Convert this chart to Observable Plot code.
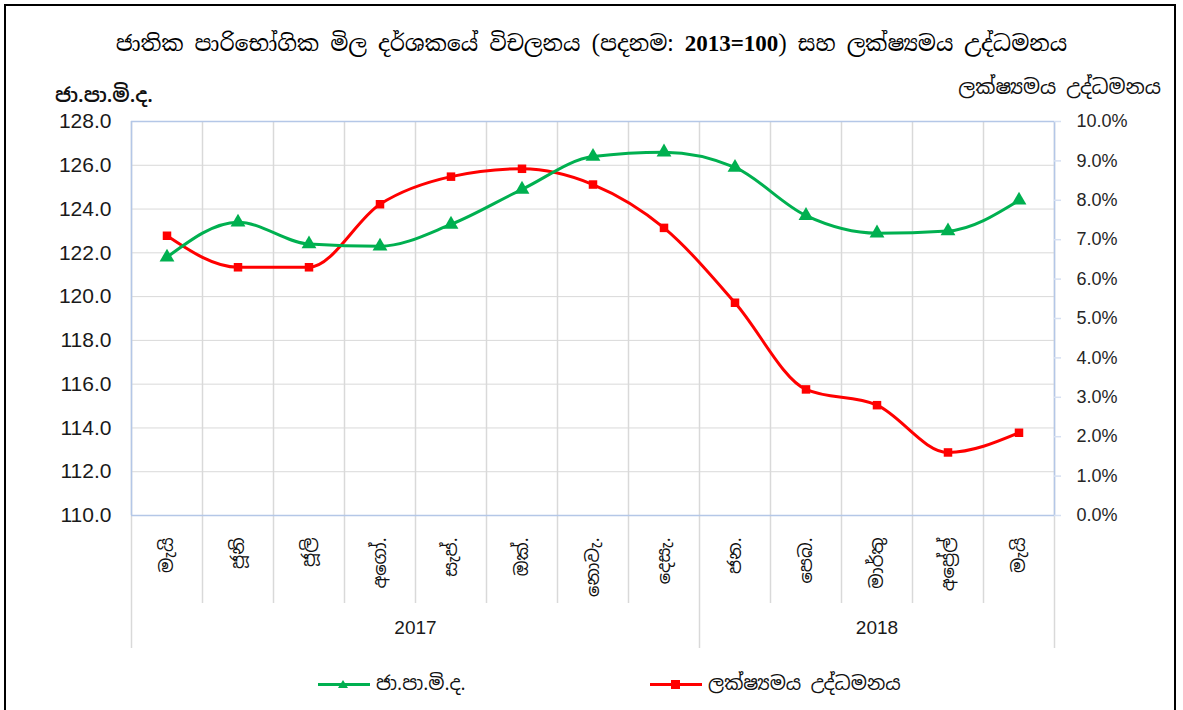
<!DOCTYPE html>
<html>
<head>
<meta charset="utf-8">
<script src="https://cdn.jsdelivr.net/npm/d3@7"></script>
<script src="https://cdn.jsdelivr.net/npm/@observablehq/plot@0.6"></script>
<style>
  html, body { margin: 0; padding: 0; background: #fff; }
  #wrap { position: relative; width: 1183px; height: 710px; overflow: hidden; background: #fff;
          font-family: "Noto Sans Sinhala", "Noto Serif Sinhala", "Iskoola Pota", "LKLUG", "Liberation Sans", sans-serif; color: #111; }
  #frame { position: absolute; left: 4px; top: 4px; width: 1172px; height: 760px; border: 2px solid #000; box-sizing: border-box; }
  #title { position: absolute; left: 0; width: 1183px; top: 29px; text-align: center; font-size: 22px; color: #000;
           font-family: "Noto Serif Sinhala", "Noto Sans Sinhala", "Iskoola Pota", "Liberation Serif", serif; }
  #title b { font-family: "Liberation Serif", serif; font-weight: bold; font-size: 23px; }
  #ylabL { position: absolute; left: 55px; top: 82px; font-size: 20px; font-weight: 600; }
  #ylabR { position: absolute; right: 22px; top: 74px; font-size: 20px; }
  #chart { position: absolute; left: 0; top: 0; }
  #legend { position: absolute; top: 671px; left: 0; width: 1183px; height: 28px; font-size: 19px; }
  .item { position: absolute; top: 0; display: flex; align-items: center; gap: 6px; }
</style>
</head>
<body>
<div id="wrap">
  <div id="chart"></div>
  <div id="frame"></div>
  <div id="title"></div>
  <div id="ylabL"></div>
  <div id="ylabR"></div>
  <div id="legend"></div>
</div>
<script>
// ---- data ----
const months = ["මැයි","ජූනි","ජූලි","අගෝ.","සැප්.","ඔක්.","නොවැ.","දෙසැ.","ජන.","පෙබ.","මාර්තු","අප්‍රේල්","මැයි"];
const years = ["2017", "2018"];
const monthsPerYear = [8, 5];
const ccpi = [121.8, 123.4, 122.4, 122.3, 123.3, 124.9, 126.4, 126.6, 125.9, 123.7, 122.9, 123.0, 124.4];
const inflation = [7.1, 6.3, 6.3, 7.9, 8.6, 8.8, 8.4, 7.3, 5.4, 3.2, 2.8, 1.6, 2.1];
const leftTicks = [110, 112, 114, 116, 118, 120, 122, 124, 126, 128];
const rightTicks = [0, 1, 2, 3, 4, 5, 6, 7, 8, 9, 10];
const seriesNames = ["ජා.පා.මි.ද.", "ලක්ෂ්‍යමය උද්ධමනය"];
const titleText = "ජාතික පාරිභෝගික මිල දර්ශකයේ විචලනය (පදනම: <b>2013=100</b>) සහ ලක්ෂ්‍යමය උද්ධමනය";

// ---- helpers ----
const GREEN = "#00b050", RED = "#ff0000", GRID = "#d9d9d9", BLUE = "#b4c7e7";
const sinh = '"Noto Sans Sinhala","Noto Serif Sinhala","Iskoola Pota","LKLUG","Liberation Sans",sans-serif';
const yMin = leftTicks[0], yMax = leftTicks[leftTicks.length - 1];
const pctMax = rightTicks[rightTicks.length - 1];
const pctToY = p => yMin + p * (yMax - yMin) / pctMax;
const n = months.length;
const idx = d3.range(n);
const boundaries = d3.range(n + 1);
const yearEdges = [0, ...d3.cumsum(monthsPerYear)];
const yearCenters = monthsPerYear.map((m, i) => yearEdges[i] + m / 2);
const innerB = boundaries.filter(b => !yearEdges.includes(b));

const W = 1183, H = 660;
const chart = Plot.plot({
  width: W, height: H,
  marginLeft: 131, marginRight: W - 1054, marginTop: 121, marginBottom: H - 515,
  x: {domain: [0, n], axis: null},
  y: {domain: [yMin, yMax], axis: null},
  style: {background: "transparent", overflow: "visible"},
  marks: [
    // horizontal gridlines
    Plot.ruleY(leftTicks.slice(1, -1), {stroke: GRID, strokeWidth: 1}),
    // vertical category separators (inside plot and label area)
    Plot.ruleX(innerB, {stroke: GRID, strokeWidth: 1.5, insetBottom: -88}),
    Plot.ruleX(yearEdges, {stroke: GRID, strokeWidth: 1.5, insetBottom: -133}),
    // frame of plot area
    Plot.ruleY([yMin, yMax], {stroke: BLUE, strokeWidth: 1.5}),
    Plot.ruleX([0, n], {stroke: BLUE, strokeWidth: 1.5}),
    // left axis labels
    Plot.text(leftTicks, {y: d => d, frameAnchor: "left", textAnchor: "end", dx: -20, text: d => d3.format(".1f")(d),
      fontSize: 21, fill: "#1a1a1a", fontFamily: "Liberation Sans, Arial, sans-serif"}),
    // right axis (inflation %)
    Plot.ruleY(rightTicks, {y: pctToY, x1: n, x2: n, insetRight: -7, stroke: "#d6e0f2", strokeWidth: 1.5}),
    Plot.text(rightTicks, {y: pctToY, frameAnchor: "right", textAnchor: "start", dx: 22, text: d => d.toFixed(1) + "%",
      fontSize: 18, fill: "#262626", fontFamily: "Liberation Sans, Arial, sans-serif"}),
    // month labels
    Plot.text(months, {x: (d, i) => i + 0.5, frameAnchor: "bottom", dy: 22, rotate: -90, textAnchor: "end",
      lineAnchor: "middle", fontSize: 18, fill: "#111", fontFamily: sinh}),
    // year labels
    Plot.text(years, {x: (d, i) => yearCenters[i], frameAnchor: "bottom", dy: 118, fontSize: 19,
      fill: "#1a1a1a", fontFamily: "Liberation Sans, Arial, sans-serif"}),
    // inflation series (secondary axis)
    Plot.line(idx, {x: i => i + 0.5, y: i => pctToY(inflation[i]), stroke: RED, strokeWidth: 3, curve: "monotone-x"}),
    Plot.dot(idx, {x: i => i + 0.5, y: i => pctToY(inflation[i]), symbol: "square", fill: RED, r: 4.8}),
    // CCPI series
    Plot.line(idx, {x: i => i + 0.5, y: i => ccpi[i], stroke: GREEN, strokeWidth: 3, curve: "monotone-x"}),
    Plot.dot(idx, {x: i => i + 0.5, y: i => ccpi[i], symbol: "triangle", fill: GREEN, r: 5.5})
  ]
});
document.getElementById("chart").appendChild(chart);

document.getElementById("title").innerHTML = titleText;
document.getElementById("ylabL").textContent = seriesNames[0];
document.getElementById("ylabR").textContent = seriesNames[1];

const legend = document.getElementById("legend");
const items = [
  {name: seriesNames[0], color: GREEN, sym: "tri", left: 318},
  {name: seriesNames[1], color: RED, sym: "sq", left: 650}
];
items.forEach(it => {
  const div = document.createElement("div");
  div.className = "item";
  div.style.left = it.left + "px";
  const marker = it.sym === "tri"
    ? `<path d="M25,8 L30,16 L20,16 Z" fill="${it.color}"/>`
    : `<rect x="21" y="8" width="9" height="9" fill="${it.color}"/>`;
  div.innerHTML = `<svg width="52" height="24"><line x1="0" y1="12.5" x2="52" y2="12.5" stroke="${it.color}" stroke-width="3"/>${marker}</svg><span>${it.name}</span>`;
  legend.appendChild(div);
});
</script>
</body>
</html>
